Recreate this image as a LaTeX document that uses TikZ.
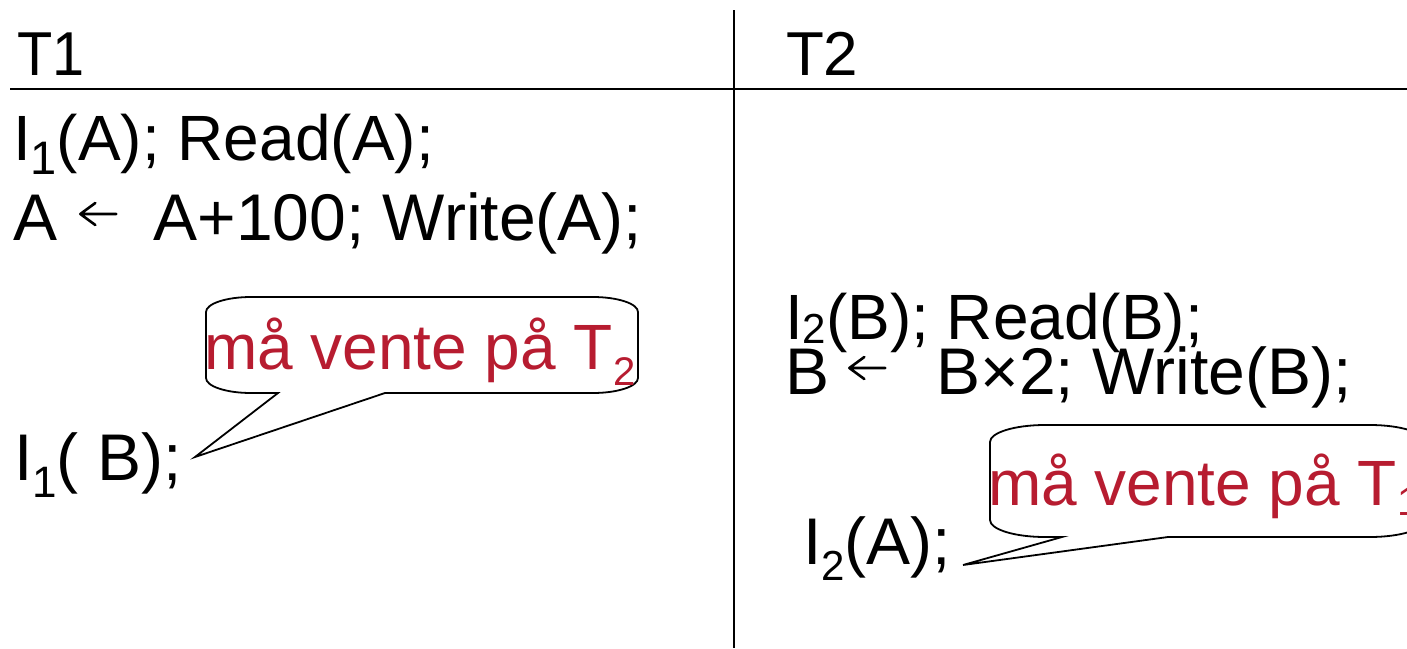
\documentclass[tikz,border=0pt]{standalone}
\usepackage{fontspec}
\setmainfont{Liberation Sans}
\definecolor{callred}{RGB}{183,28,48}
\newcommand{\sbs}[3]{\raisebox{-#2pt}{\fontsize{#1}{#1}\selectfont #3}}
\newcommand{\larr}{\tikz[baseline=0pt]{\draw[line width=2.6pt, line cap=round, line join=round] (0pt,26pt) -- (36pt,26pt) (15pt,37pt) -- (0pt,26pt) -- (15pt,15pt);}}
\begin{document}
\begin{tikzpicture}[x=1pt,y=1pt,
  txt/.style={anchor=base west, inner sep=0pt, outer sep=0pt, font=\fontsize{66}{70}\selectfont},
  rule/.style={line width=1.8pt},
  bubble/.style={draw=black, line width=1.8pt, fill=white}]
\useasboundingbox (0,0) rectangle (1407,-648);
\clip (0,0) rectangle (1407,-648);
% table rules
\coordinate (vtop) at (734,-10);
\coordinate (vbot) at (734,-648);
\coordinate (hl) at (10,-89);
\coordinate (hr) at (1407,-89);
\draw[rule] (vtop) -- (vbot);
\draw[rule] (hl) -- (hr);
% headers
\node[txt, font=\fontsize{62}{66}\selectfont] (t1) at (17,-75) {\scalebox{0.93}[1]{T1}};
\node[txt, font=\fontsize{62}{66}\selectfont] (t2) at (786,-75) {T2};
% T1 column
\node[txt, font=\fontsize{64}{68}\selectfont] (a1) at (13,-160) {I\sbs{47}{14}{1}(A); Read(A);};
\node[txt] (a2) at (13,-240) {A\hspace{22pt}\larr\hspace{36pt}A+100; Write(A);};
\node[txt] (a3) at (14,-480) {I\sbs{44}{17}{1}( B);};
% T2 column
\node[txt, font=\fontsize{64}{68}\selectfont] (b1) at (785,-339) {I\sbs{42}{4}{2}(B); Read(B);};
\node[txt] (b2) at (785,-394) {B\hspace{19pt}\larr\hspace{50pt}B×2; Write(B);};
\node[txt] (b3) at (803,-564) {I\sbs{42}{16}{2}(A);};
% bubble 1
\draw[bubble] (206,-312) arc[start angle=180, end angle=90, x radius=45, y radius=15]
  -- (593,-297) arc[start angle=90, end angle=0, x radius=45, y radius=15]
  -- (638,-378) arc[start angle=0, end angle=-90, x radius=45, y radius=15]
  -- (385,-393) -- (195,-457) -- (278,-393)
  -- (251,-393) arc[start angle=-90, end angle=-180, x radius=45, y radius=15]
  -- cycle;
\node[txt, text=callred, font=\fontsize{64}{68}\selectfont] (c1) at (204,-369) {må vente på T\sbs{40}{16}{2}};
% bubble 2
\draw[bubble] (990,-442) arc[start angle=180, end angle=90, x radius=55, y radius=17]
  -- (1370,-425) arc[start angle=90, end angle=0, x radius=55, y radius=17]
  -- (1425,-520) arc[start angle=0, end angle=-90, x radius=55, y radius=17]
  -- (1168,-537) -- (963,-565) -- (1062,-537)
  -- (1045,-537) arc[start angle=-90, end angle=-180, x radius=55, y radius=17]
  -- cycle;
\node[txt, text=callred, font=\fontsize{64}{68}\selectfont] (c2) at (988,-505) {må vente på T\sbs{40}{10}{1}};
\end{tikzpicture}
\end{document}
